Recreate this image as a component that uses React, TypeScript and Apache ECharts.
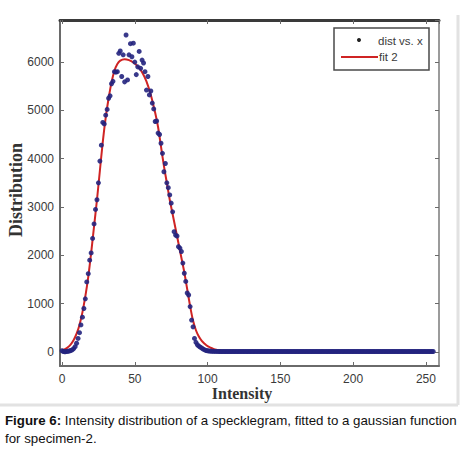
import React, { useEffect, useRef } from "react";
import * as echarts from "echarts";

// x range and y range of the plot box
const X_MIN = -1.4;
const X_MAX = 259;
const Y_MIN = -290;
const Y_MAX = 6870;

const xTickLabels = [0, 50, 100, 150, 200, 250];
const yTickLabels = [0, 1000, 2000, 3000, 4000, 5000, 6000];

// measured distribution, intensity 0..100
const distMain = [
  25, 10, 5, 10, 15, 20, 30, 45, 70, 110,
  180, 280, 400, 560, 720, 900, 1100, 1450, 1620, 1900,
  2050, 2350, 2650, 2950, 3150, 3500, 3950, 4280, 4750, 4720,
  4900, 5020, 5250, 5300, 5550, 5600, 5800, 5790, 5800, 6180,
  6230, 5700, 6150, 5590, 6560, 5630, 6150, 6380, 6110, 6390,
  6000, 5740, 5900, 6220, 5870, 6040, 5980, 5800, 5420, 5700,
  5320, 5400, 5150, 5030, 4770, 4780, 4530, 4500, 4320, 4110,
  3730, 3900, 3500, 3400, 3250, 3080, 2900, 2490, 2420, 2400,
  2180, 2150, 2080, 1840, 1630, 1460, 1220, 1180, 940, 660,
  520, 280, 200, 150, 120, 100, 80, 60, 45, 30,
  25,
];
// measured distribution, intensity 101..255
const distTail = [
  20, 18, 15, 14, 12, 12, 11, 10, 10, 10,
  10, 10, 10, 10, 10, 10, 10, 10, 10, 10,
  10, 10, 10, 10, 10, 10, 10, 10, 10, 10,
  10, 10, 10, 10, 10, 10, 10, 10, 10, 10,
  10, 10, 10, 10, 10, 10, 10, 10, 10, 10,
  10, 10, 10, 10, 10, 10, 10, 10, 10, 10,
  10, 10, 10, 10, 10, 10, 10, 10, 10, 10,
  10, 10, 10, 10, 10, 10, 10, 10, 10, 10,
  10, 10, 10, 10, 10, 10, 10, 10, 10, 10,
  10, 10, 10, 10, 10, 10, 10, 10, 10, 10,
  10, 10, 10, 10, 10, 10, 10, 10, 10, 10,
  10, 10, 10, 10, 10, 10, 10, 10, 10, 10,
  10, 10, 10, 10, 10, 10, 10, 10, 10, 10,
  10, 10, 10, 10, 10, 10, 10, 10, 10, 10,
  10, 10, 10, 10, 10, 10, 10, 10, 10, 10,
  10, 10, 10, 10, 10,
];

// fitted curve "fit 2"
const fitX = [
  0, 2, 4, 6, 8, 10, 12, 14, 16, 18, 20, 22, 24, 26, 28, 30, 32, 34, 36, 38,
  40, 43, 46, 49, 52, 55, 58, 61, 64, 66, 68, 70, 72, 74, 76, 78, 80, 82, 84,
  86, 88, 90, 92, 94, 96, 98, 100, 102, 104, 106, 108, 110, 115, 120, 130, 255,
];
const fitY = [
  40, 60, 100, 160, 250, 380, 560, 820, 1150, 1550, 2050, 2600, 3150, 3750,
  4350, 4850, 5250, 5580, 5820, 5960, 6030, 6060, 6040, 5990, 5910, 5790, 5600,
  5320, 4950, 4650, 4250, 3850, 3500, 3150, 2850, 2550, 2250, 1950, 1650, 1300,
  950, 650, 450, 320, 230, 170, 120, 90, 65, 45, 30, 20, 10, 5, 2, 0,
];

const seriesNames = ["dist vs. x", "fit 2"];
const captionBold = "Figure 6:";
const captionLine1 = " Intensity distribution of a specklegram, fitted to a gaussian function";
const captionLine2 = "for specimen-2.";

const DOT = "#24237e";
const RED = "#cf2424";
const TICK_FONT = "'Liberation Sans', Arial, sans-serif";
const SERIF = "'Liberation Serif', 'Times New Roman', serif";

export default function App() {
  const ref = useRef<HTMLDivElement>(null);

  useEffect(() => {
    if (!ref.current) return;
    const chart = echarts.init(ref.current, undefined, { renderer: "svg" });
    const dist = distMain.concat(distTail);
    const scatterData = dist.map((v, i) => [i, v]);
    const fitData = fitX.map((x, i) => [x, fitY[i]]);

    const baseX = {
      type: "value" as const,
      min: X_MIN,
      max: X_MAX,
      splitNumber: 5,
      splitLine: { show: false },
      gridIndex: 0,
    };
    const baseY = {
      type: "value" as const,
      min: Y_MIN,
      max: Y_MAX,
      splitNumber: 7,
      splitLine: { show: false },
      gridIndex: 0,
    };

    chart.setOption({
      animation: false,
      backgroundColor: "#ffffff",
      grid: { left: 60, top: 20, right: 26, bottom: 92, containLabel: false },
      xAxis: [
        {
          ...baseX,
          position: "bottom",
          axisLine: { onZero: false, lineStyle: { color: "#6a6a6a", width: 2 } },
          axisTick: { inside: true, length: 4, lineStyle: { color: "#6a6a6a" } },
          axisLabel: {
            color: "#3a3a3a",
            fontSize: 12,
            fontFamily: TICK_FONT,
            margin: 7,
            showMinLabel: false,
            showMaxLabel: false,
            formatter: (v: number) => (xTickLabels.includes(v) ? String(v) : ""),
          },
        },
        {
          ...baseX,
          position: "top",
          axisLine: { onZero: false, lineStyle: { color: "#3a3a3a", width: 3 } },
          axisTick: { inside: true, length: 4, lineStyle: { color: "#6a6a6a" } },
          axisLabel: { show: false },
        },
      ],
      yAxis: [
        {
          ...baseY,
          position: "left",
          axisLine: { onZero: false, lineStyle: { color: "#6a6a6a", width: 2 } },
          axisTick: { inside: true, length: 4, lineStyle: { color: "#6a6a6a" } },
          axisLabel: {
            color: "#3a3a3a",
            fontSize: 12,
            fontFamily: TICK_FONT,
            margin: 6,
            showMinLabel: false,
            showMaxLabel: false,
            formatter: (v: number) => (yTickLabels.includes(v) ? String(v) : ""),
          },
        },
        {
          ...baseY,
          position: "right",
          axisLine: { onZero: false, lineStyle: { color: "#7a7a7a", width: 1.5 } },
          axisTick: { inside: true, length: 4, lineStyle: { color: "#6a6a6a" } },
          axisLabel: { show: false },
        },
      ],
      series: [
        {
          name: seriesNames[1],
          type: "line",
          data: fitData,
          smooth: 0.3,
          showSymbol: false,
          lineStyle: { color: RED, width: 2 },
          z: 2,
        },
        {
          name: seriesNames[0],
          type: "scatter",
          data: scatterData,
          symbolSize: 5,
          itemStyle: { color: DOT, opacity: 0.9 },
          z: 3,
        },
      ],
      graphic: [
        // figure frame (right and bottom)
        { type: "line", shape: { x1: 458, y1: 15, x2: 458, y2: 405 }, style: { stroke: "#e2e2e2", lineWidth: 3 } },
        { type: "line", shape: { x1: 0, y1: 405, x2: 458, y2: 405 }, style: { stroke: "#e2e2e2", lineWidth: 3 } },
        // legend
        {
          type: "rect",
          shape: { x: 334, y: 28, width: 95, height: 42 },
          style: { fill: "#ffffff", stroke: "#4a4a4a", lineWidth: 1.5 },
          z: 10,
        },
        { type: "circle", shape: { cx: 359, cy: 40, r: 2 }, style: { fill: "#222" }, z: 11 },
        {
          type: "text",
          x: 378,
          y: 41,
          style: { text: seriesNames[0], fill: "#3a3a3a", font: `11.5px ${TICK_FONT}`, verticalAlign: "middle" },
          z: 11,
        },
        { type: "line", shape: { x1: 341, y1: 57, x2: 378, y2: 57 }, style: { stroke: RED, lineWidth: 2 }, z: 11 },
        {
          type: "text",
          x: 379,
          y: 57,
          style: { text: seriesNames[1], fill: "#3a3a3a", font: `11.5px ${TICK_FONT}`, verticalAlign: "middle" },
          z: 11,
        },
        // axis titles
        {
          type: "text",
          x: 242,
          y: 393,
          style: { text: "Intensity", fill: "#333", font: `bold 16px ${SERIF}`, align: "center", verticalAlign: "middle" },
        },
        {
          type: "text",
          x: 16,
          y: 190,
          rotation: Math.PI / 2,
          style: { text: "Distribution", fill: "#333", font: `bold 18px ${SERIF}`, align: "center", verticalAlign: "middle" },
        },
        // caption
        {
          type: "text",
          x: 5,
          y: 420,
          style: {
            text: `{b|${captionBold}}${captionLine1}`,
            fill: "#111",
            font: `13.3px ${TICK_FONT}`,
            verticalAlign: "middle",
            rich: { b: { fontWeight: "bold", fontSize: 13.3, fontFamily: TICK_FONT, fill: "#111" } },
          },
        },
        {
          type: "text",
          x: 5,
          y: 438,
          style: { text: captionLine2, fill: "#111", font: `13.3px ${TICK_FONT}`, verticalAlign: "middle" },
        },
      ],
    });
    return () => chart.dispose();
  }, []);

  return (
    <div
      ref={ref}
      style={{ position: "fixed", left: 0, top: 0, width: 465, height: 458, background: "#fff" }}
    />
  );
}
